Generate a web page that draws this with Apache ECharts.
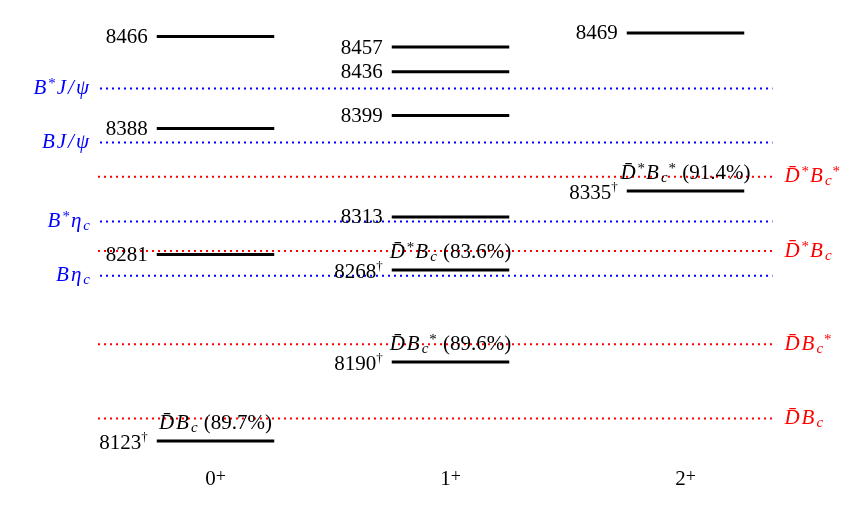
<!DOCTYPE html>
<html><head><meta charset="utf-8">
<script src="https://cdn.jsdelivr.net/npm/echarts@6/dist/echarts.min.js"></script>
<style>html,body{margin:0;padding:0;background:#fff}#c{width:862px;height:512px}</style>
</head><body><div id="c"></div>
<script>
// J^P categories
const categories = ['0', '1', '2'];
// Bound-state levels (MeV)
const levelJP = [0, 0, 0, 0, 1, 1, 1, 1, 1, 1, 2, 2];
const levelMass = [8466, 8388, 8281, 8123, 8457, 8436, 8399, 8313, 8268, 8190, 8469, 8335];
const levelDagger = [false, false, false, true, false, false, false, false, true, true, false, true];
// Dominant channel annotations
const channelMass = [8123, 8190, 8268, 8335];
const channelJP = [0, 1, 1, 2];
const channelText = ['{m|D̄B}{sub|c}', '{m|D̄B}{sub|c}{sup|*}', '{m|D̄}{sup|*}{m|B}{sub|c}', '{m|D̄}{sup|*}{m|B}{sub|c}{sup|*}'];
const channelFrac = ['89.7%', '89.6%', '83.6%', '91.4%'];
// Thresholds (blue, labelled left)
const leftThrMass = [8422, 8376, 8309, 8263];
const leftThrText = ['{m|B}{sup|*}{m|J/ψ}', '{m|BJ/ψ}', '{m|B}{sup|*}{m|η}{sub|c}', '{m|Bη}{sub|c}'];
// Thresholds (red, labelled right)
const rightThrMass = [8347, 8284, 8205, 8142];
const rightThrText = ['{m|D̄}{sup|*}{m|B}{sub|c}{sup|*}', '{m|D̄}{sup|*}{m|B}{sub|c}', '{m|D̄B}{sub|c}{sup|*}', '{m|D̄B}{sub|c}'];

const FONT = 'Liberation Serif';
// spread math-italic glyphs a little, like TeX math italic
function spaced(t) {
  return t.replace(/\{m\|([^}]*)\}/g, (all, s) => {
    const chars = [];
    for (const ch of Array.from(s)) {
      if (/[\u0300-\u036f]/.test(ch) && chars.length) chars[chars.length - 1] += ch;
      else chars.push(ch);
    }
    return chars.map(c => '{m|' + c + '}').join('');
  });
}
function richStyles(color) {
  return {
    m: {fontFamily: FONT, fontStyle: 'italic', fontSize: 21, lineHeight: 24, padding: [0, 2, 0, 0], fill: color, color: color},
    n: {fontFamily: FONT, fontSize: 21, lineHeight: 24, fill: color, color: color},
    sub: {fontFamily: FONT, fontStyle: 'italic', fontSize: 15, lineHeight: 16, verticalAlign: 'bottom', padding: [0, 1, 0, 0], fill: color, color: color},
    sup: {fontFamily: FONT, fontSize: 15, lineHeight: 18, verticalAlign: 'top', padding: [0, 1, 0, 0], fill: color, color: color},
    d: {fontFamily: FONT, fontSize: 13, lineHeight: 16, verticalAlign: 'top', fill: color, color: color}
  };
}

const levelData = levelMass.map((m, i) => [levelJP[i], m, levelDagger[i] ? 1 : 0]);
const channelData = channelMass.map((m, i) => [channelJP[i], m, i]);
const thrData = leftThrMass.map((m, i) => [m, 0, i]).concat(rightThrMass.map((m, i) => [m, 1, i]));

const X_MIN = -0.5, X_END = 2.37, HALF = 0.25;
const BLUE = '#0000ff', RED = '#ff0000';

const chart = echarts.init(document.getElementById('c'), null, {renderer: 'canvas'});
chart.setOption({
  animation: false,
  backgroundColor: '#fff',
  grid: {left: 98, right: 59, top: 20, bottom: 44},
  xAxis: [
    {type: 'value', min: -0.5, max: 2.5, show: false, position: 'bottom'},
    {type: 'category', data: categories, boundaryGap: true, position: 'bottom', offset: 0,
     axisLine: {show: false}, axisTick: {show: false}, splitLine: {show: false},
     axisLabel: {margin: 0, formatter: v => '{n|' + v + '}{sup|+}',
       rich: {
         n: {fontFamily: FONT, fontSize: 21, lineHeight: 22, color: '#000'},
         sup: {fontFamily: FONT, fontSize: 18, lineHeight: 10, verticalAlign: 'top', color: '#000'}
       }}}
  ],
  yAxis: {type: 'value', min: 8100, max: 8480, show: false},
  series: [
    {
      type: 'custom', xAxisIndex: 0, yAxisIndex: 0, data: thrData, z: 1,
      renderItem(params, api) {
        const m = api.value(0), side = api.value(1), idx = api.value(2);
        const a = api.coord([X_MIN, m]), b = api.coord([X_END, m]);
        const color = side === 0 ? BLUE : RED;
        const text = spaced(side === 0 ? leftThrText[idx] : rightThrText[idx]);
        return {type: 'group', children: [
          {type: 'line', shape: {x1: a[0] + (side === 0 ? 2 : 0), y1: a[1], x2: b[0], y2: b[1]},
           style: {stroke: color, lineWidth: 2, lineDash: [2, 4]}},
          {type: 'text', x: side === 0 ? a[0] - 7 : b[0] + 12, y: a[1],
           style: {text: text, rich: richStyles(color), fill: color,
                   align: side === 0 ? 'right' : 'left', textAlign: side === 0 ? 'right' : 'left',
                   verticalAlign: 'middle', textVerticalAlign: 'middle'}}
        ]};
      }
    },
    {
      type: 'custom', xAxisIndex: 0, yAxisIndex: 0, data: levelData, z: 3,
      renderItem(params, api) {
        const jp = api.value(0), m = api.value(1), dag = api.value(2);
        const l = api.coord([jp - HALF, m]), r = api.coord([jp + HALF, m]);
        const text = '{n|' + m + '}' + (dag ? '{d|†}' : '');
        return {type: 'group', children: [
          {type: 'line', shape: {x1: l[0], y1: l[1], x2: r[0], y2: r[1]},
           style: {stroke: '#000', lineWidth: 3}},
          {type: 'text', x: l[0] - 9, y: l[1] + (dag ? 2.5 : 1),
           style: {text: text, rich: richStyles('#000'), fill: '#000',
                   align: 'right', textAlign: 'right', verticalAlign: 'middle', textVerticalAlign: 'middle'}}
        ]};
      }
    },
    {
      type: 'custom', xAxisIndex: 0, yAxisIndex: 0, data: channelData, z: 4,
      renderItem(params, api) {
        const jp = api.value(0), m = api.value(1), idx = api.value(2);
        const c = api.coord([jp, m]);
        const text = spaced(channelText[idx]) + '{n| (' + channelFrac[idx] + ')}';
        return {type: 'text', x: c[0], y: c[1] - 17,
          style: {text: text, rich: richStyles('#000'), fill: '#000',
                  align: 'center', textAlign: 'center', verticalAlign: 'middle', textVerticalAlign: 'middle'}};
      }
    }
  ]
});
</script>
</body></html>
